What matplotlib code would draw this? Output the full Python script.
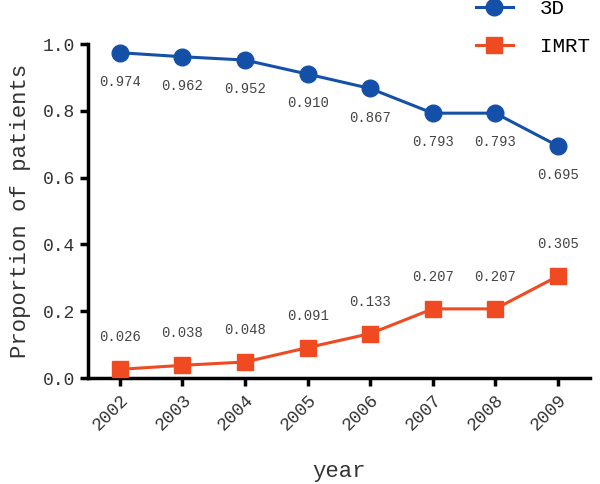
import matplotlib.pyplot as plt

years = [2002, 2003, 2004, 2005, 2006, 2007, 2008, 2009]
prop_3d = [0.974, 0.962, 0.952, 0.910, 0.867, 0.793, 0.793, 0.695]
prop_imrt = [0.026, 0.038, 0.048, 0.091, 0.133, 0.207, 0.207, 0.305]
y_ticks = [0.0, 0.2, 0.4, 0.6, 0.8, 1.0]

BLUE = "#1550a8"
ORANGE = "#f04a23"
plt.rcParams["font.family"] = ["Liberation Mono", "DejaVu Sans Mono"]

fig = plt.figure(figsize=(6, 4.84), dpi=100)
ax = fig.add_axes([0.1467, 0.219, 0.8363, 0.690])

l1, = ax.plot(years, prop_3d, color=BLUE, marker="o", markersize=12,
              linewidth=2.2, clip_on=False, label="3D", zorder=3)
l2, = ax.plot(years, prop_imrt, color=ORANGE, marker="s", markersize=12,
              linewidth=2.2, clip_on=False, label="IMRT", zorder=3)

# 3D values sit below the markers, IMRT values above
for x, y in zip(years, prop_3d):
    ax.annotate(f"{y:.3f}", (x, y), xytext=(0, -21), textcoords="offset points",
                ha="center", va="center", fontsize=10, color="#444444")
for x, y in zip(years, prop_imrt):
    ax.annotate(f"{y:.3f}", (x, y), xytext=(0, 23), textcoords="offset points",
                ha="center", va="center", fontsize=10, color="#444444")

ax.set_xlim(2001.49, 2009.51)
ax.set_ylim(0, 1.0)
ax.set_xticks(years)
ax.set_xticklabels([str(y) for y in years], rotation=45, ha="right",
                   rotation_mode="anchor", fontsize=13, color="#333333")
ax.set_yticks(y_ticks)
ax.set_yticklabels([f"{v:.1f}" for v in y_ticks], fontsize=13, color="#333333")
ax.tick_params(direction="out", length=6, width=2.5, color="black")
for side in ("top", "right"):
    ax.spines[side].set_visible(False)
for side in ("left", "bottom"):
    ax.spines[side].set_linewidth(2.5)

ax.set_ylabel("Proportion of patients", fontsize=16, color="#333333", labelpad=8)
ax.set_xlabel("year", fontsize=16, color="#333333", labelpad=20)

fig.legend(handles=[l1, l2], loc="upper right", bbox_to_anchor=(1.015, 1.04),
           frameon=False, fontsize=15, handlelength=1.8, labelspacing=0.9,
           handletextpad=1.3)

fig.savefig("out.png", dpi=100)
